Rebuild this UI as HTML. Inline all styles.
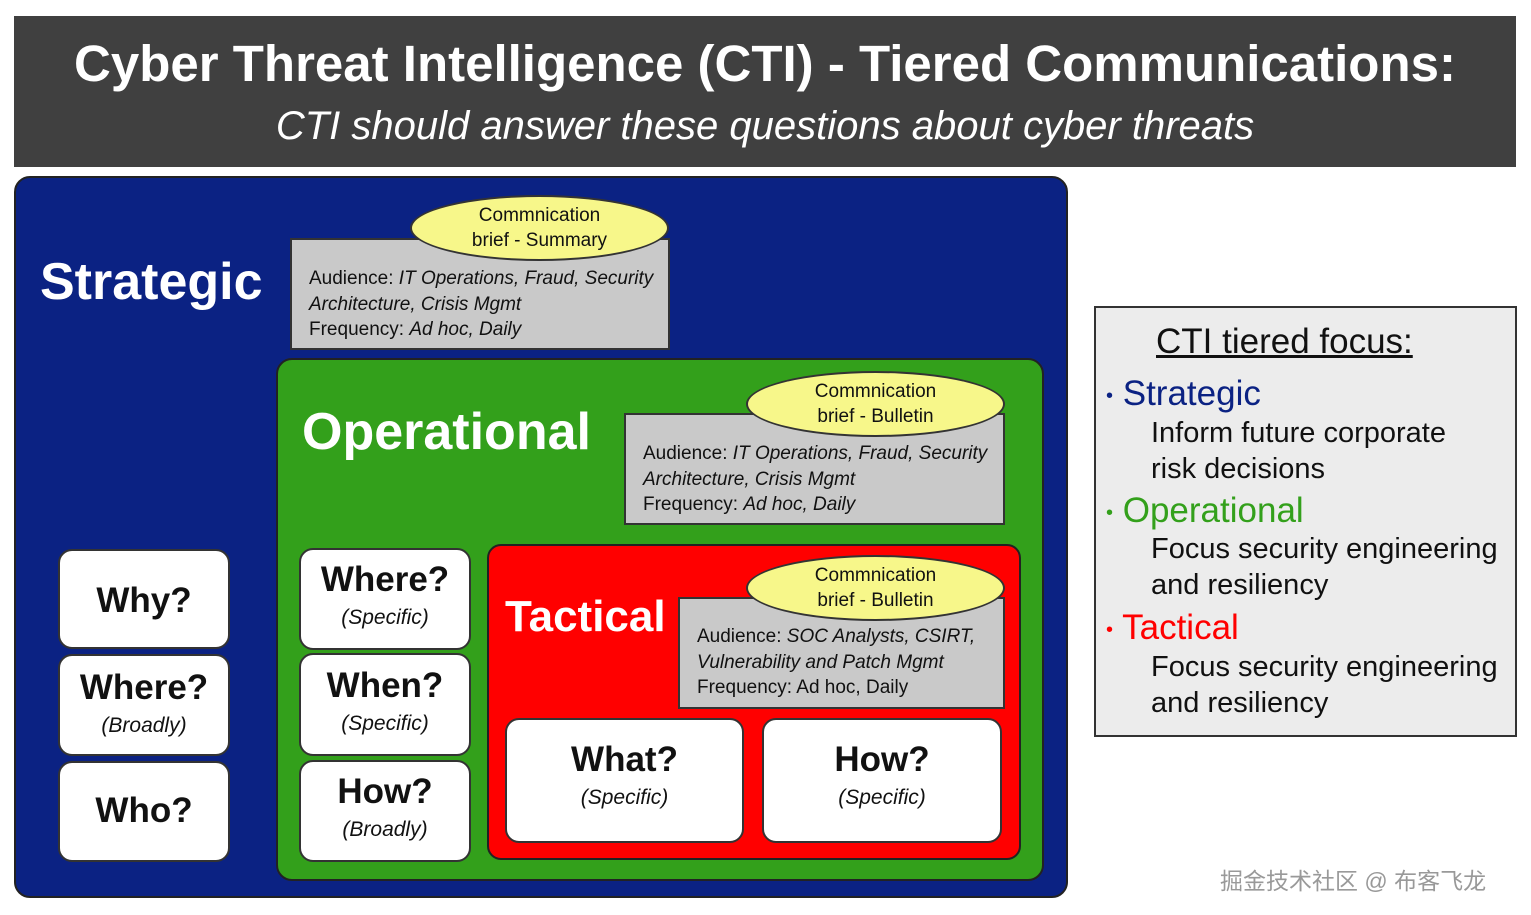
<!DOCTYPE html>
<html><head><meta charset="utf-8"><style>
body{margin:0;width:1531px;height:915px;background:#fff;position:relative;overflow:hidden;font-family:"Liberation Sans","Noto Sans CJK SC",sans-serif}
div{position:absolute;box-sizing:border-box}
.gray{background:#c9c9c9;border:2px solid #333;font-size:19px;line-height:25.5px;padding:13px 0 0 17px;color:#111}
.ell{background:#f7f78a;border:2px solid #333;border-radius:50%;text-align:center;font-size:19px;line-height:25px;padding-top:6px;color:#111}
.wb{background:#fff;border:2px solid #333;border-radius:14px;text-align:center;color:#111}
.wb b{display:block;font-size:35px;font-weight:bold;line-height:40px}
.wb i{display:block;font-size:21px;margin-top:6px}
i{font-style:italic}
</style></head><body>
<div style="left:14px;top:16px;width:1502px;height:151px;background:#404040;color:#fff;text-align:center">
<div style="left:0;width:100%;top:18px;font-size:51px;font-weight:bold">Cyber Threat Intelligence (CTI) - Tiered Communications:</div>
<div style="left:0;width:100%;top:88px;font-size:40px;font-style:italic">CTI should answer these questions about cyber threats</div>
</div>
<div style="left:14px;top:176px;width:1054px;height:722px;background:#0b2283;border:2px solid #222;border-radius:16px"></div>
<div style="left:40px;top:252px;font-size:52px;font-weight:bold;color:#fff">Strategic</div>
<div class="gray" style="left:290px;top:238px;width:380px;height:112px;padding-top:26px">Audience: <i>IT Operations, Fraud, Security<br>Architecture, Crisis Mgmt</i><br>Frequency: <i>Ad hoc, Daily</i></div>
<div class="ell" style="left:410px;top:195px;width:259px;height:66px">Commnication<br>brief - Summary</div>
<div style="left:276px;top:358px;width:768px;height:523px;background:#33a01b;border:2px solid #222;border-radius:16px"></div>
<div style="left:302px;top:402px;font-size:52px;font-weight:bold;color:#fff">Operational</div>
<div class="gray" style="left:624px;top:413px;width:381px;height:112px;padding-top:26px">Audience: <i>IT Operations, Fraud, Security<br>Architecture, Crisis Mgmt</i><br>Frequency: <i>Ad hoc, Daily</i></div>
<div class="ell" style="left:746px;top:371px;width:259px;height:66px">Commnication<br>brief - Bulletin</div>
<div style="left:487px;top:544px;width:534px;height:316px;background:#f00;border:2px solid #222;border-radius:14px"></div>
<div style="left:505px;top:592px;font-size:44px;font-weight:bold;color:#fff">Tactical</div>
<div class="gray" style="left:678px;top:597px;width:327px;height:112px;padding-top:25px">Audience: <i>SOC Analysts, CSIRT,<br>Vulnerability and Patch Mgmt</i><br>Frequency: Ad hoc, Daily</div>
<div class="ell" style="left:746px;top:555px;width:259px;height:66px">Commnication<br>brief - Bulletin</div>
<div class="wb" style="left:58px;top:549px;width:172px;height:100px;padding-top:30px"><b>Why?</b></div>
<div class="wb" style="left:58px;top:654px;width:172px;height:102px;padding-top:12px"><b>Where?</b><i>(Broadly)</i></div>
<div class="wb" style="left:58px;top:761px;width:172px;height:101px;padding-top:28px"><b>Who?</b></div>
<div class="wb" style="left:299px;top:548px;width:172px;height:102px;padding-top:10px"><b>Where?</b><i>(Specific)</i></div>
<div class="wb" style="left:299px;top:653px;width:172px;height:103px;padding-top:11px"><b>When?</b><i>(Specific)</i></div>
<div class="wb" style="left:299px;top:760px;width:172px;height:102px;padding-top:10px"><b>How?</b><i>(Broadly)</i></div>
<div class="wb" style="left:505px;top:718px;width:239px;height:125px;padding-top:20px"><b>What?</b><i>(Specific)</i></div>
<div class="wb" style="left:762px;top:718px;width:240px;height:125px;padding-top:20px"><b>How?</b><i>(Specific)</i></div>
<div style="left:1094px;top:306px;width:423px;height:431px;background:#ececec;border:2px solid #333;font-size:29px;line-height:36px;color:#111">
<div style="left:60px;top:16px;font-size:35px;text-decoration:underline">CTI tiered focus:</div>
<div style="left:10px;top:68px;color:#0b2283;font-size:35px"><span style="font-size:20px;vertical-align:middle">•</span> Strategic</div>
<div style="left:55px;top:107px">Inform future corporate<br>risk decisions</div>
<div style="left:10px;top:185px;color:#33a01b;font-size:35px"><span style="font-size:20px;vertical-align:middle">•</span> Operational</div>
<div style="left:55px;top:223px;white-space:nowrap">Focus security engineering<br>and resiliency</div>
<div style="left:10px;top:302px;color:#f00;font-size:35px"><span style="font-size:20px;vertical-align:middle">•</span> Tactical</div>
<div style="left:55px;top:341px;white-space:nowrap">Focus security engineering<br>and resiliency</div>
</div>
<div style="left:1220px;top:862px;font-size:23px;color:#999">掘金技术社区 @ 布客飞龙</div>
</body></html>
